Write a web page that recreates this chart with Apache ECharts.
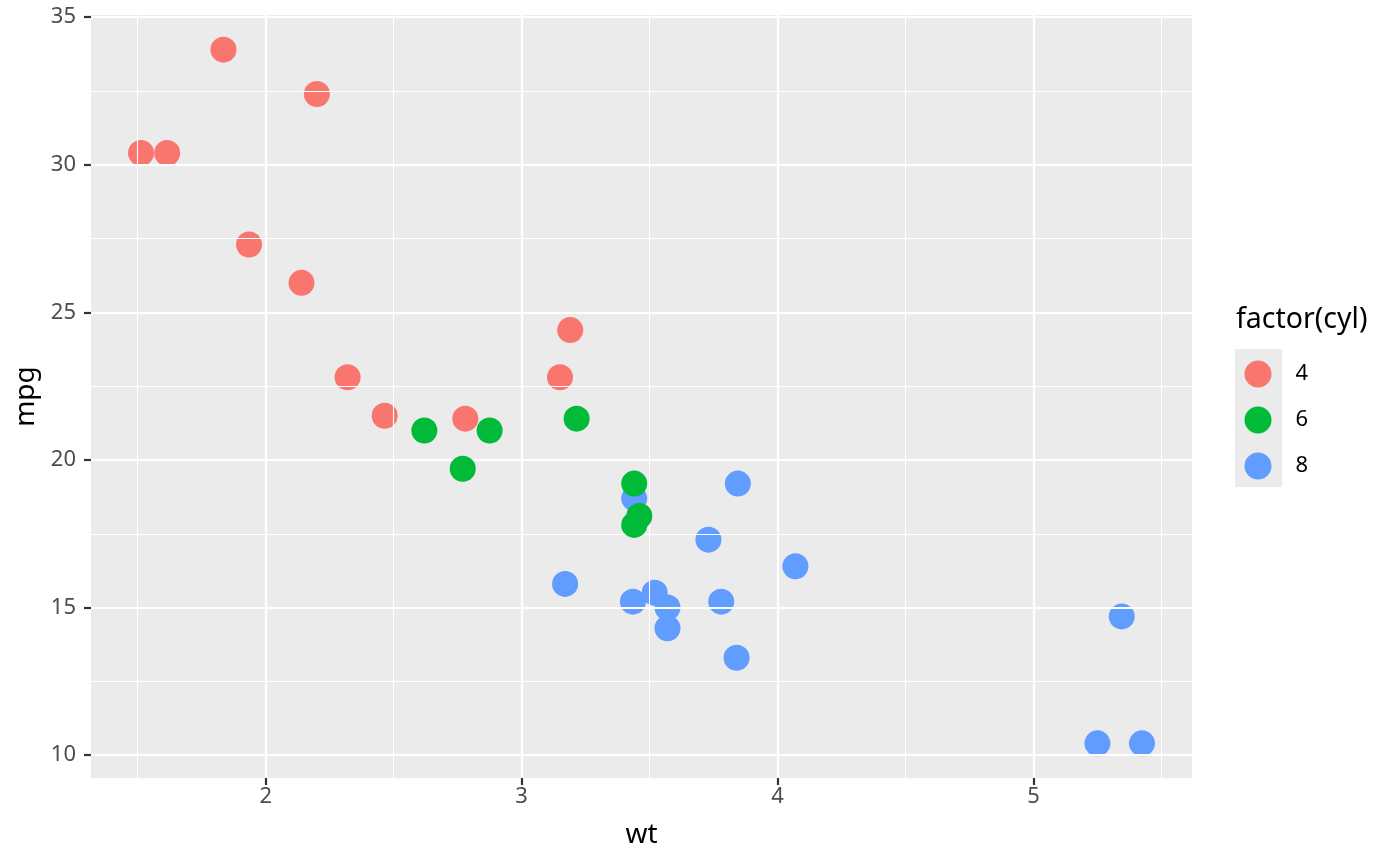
<!DOCTYPE html>
<html><head><meta charset="utf-8">
<script src="https://cdn.jsdelivr.net/npm/echarts@6/dist/echarts.min.js"></script>
<style>html,body{margin:0;padding:0;background:#fff}#c{width:1400px;height:866px}</style>
</head><body><div id="c"></div>
<script>
// mtcars: weight (1000 lbs), miles per gallon, cylinders
const wt  = [2.620,2.875,2.320,3.215,3.440,3.460,3.570,3.190,3.150,3.440,3.440,4.070,3.730,3.780,5.250,5.424,5.345,2.200,1.615,1.835,2.465,3.520,3.435,3.840,3.845,1.935,2.140,1.513,3.170,2.770,3.570,2.780];
const mpg = [21.0,21.0,22.8,21.4,18.7,18.1,14.3,24.4,22.8,19.2,17.8,16.4,17.3,15.2,10.4,10.4,14.7,32.4,30.4,33.9,21.5,15.5,15.2,13.3,19.2,27.3,26.0,30.4,15.8,19.7,15.0,21.4];
const cyl = [6,6,4,6,8,6,8,4,4,6,6,8,8,8,8,8,8,4,4,4,4,8,8,8,8,4,4,4,8,6,8,4];
const levels = ['4','6','8'];
const colors = ['#F8766D','#00BA38','#619CFF'];
const drawOrder = ['4','8','6'];
const xMajor = [2,3,4,5];
const xMinor = [1.5,2.5,3.5,4.5,5.5];
const yMajor = [10,15,20,25,30,35];
const yMinor = [12.5,17.5,22.5,27.5,32.5];

function expand(arr){const lo=Math.min(...arr),hi=Math.max(...arr),p=(hi-lo)*0.05;return [lo-p,hi+p];}
const xr = expand(wt), yr = expand(mpg);
const FONT = '"Noto Sans", "Open Sans", sans-serif';

const gridLines = [];
xMinor.forEach(v=>gridLines.push({xAxis:v,lineStyle:{width:1.1}}));
yMinor.forEach(v=>gridLines.push({yAxis:v,lineStyle:{width:1.1}}));
xMajor.forEach(v=>gridLines.push({xAxis:v,lineStyle:{width:2.2}}));
yMajor.forEach(v=>gridLines.push({yAxis:v,lineStyle:{width:2.2}}));

const series = [{
  type:'scatter', name:'grid', data:[], z:1, silent:true,
  markLine:{silent:true, symbol:['none','none'], label:{show:false}, animation:false,
    lineStyle:{color:'#FFFFFF', type:'solid'}, emphasis:{disabled:true}, data:gridLines}
}];
drawOrder.forEach((lv,j)=>{
  const i = levels.indexOf(lv);
  const d=[];
  for(let k=0;k<wt.length;k++) if(String(cyl[k])===lv) d.push([wt[k],mpg[k]]);
  series.push({type:'scatter', name:lv, data:d, symbol:'circle', symbolSize:26, z:3+j,
    itemStyle:{color:colors[i], opacity:1}, emphasis:{disabled:true}});
});

const chart = echarts.init(document.getElementById('c'));
chart.setOption({
  animation:false,
  backgroundColor:'#FFFFFF',
  textStyle:{fontFamily:FONT},
  grid:{left:91,right:208,top:15,bottom:88,show:true,backgroundColor:'#EBEBEB',borderWidth:0},
  title:{text:'factor(cyl)',left:1236,top:305,padding:0,textStyle:{fontFamily:FONT,fontSize:28.5,fontWeight:'normal',color:'#000000'}},
  graphic:[{type:'rect',left:1235,top:349,shape:{width:47,height:138},style:{fill:'#EBEBEB'},z:0,silent:true}],
  legend:{data:levels, orient:'vertical', left:1244.5, top:360.5, padding:0, itemWidth:27, itemHeight:27, itemGap:19,
    icon:'circle', textStyle:{fontFamily:FONT,fontSize:22,color:'#000000',padding:[0,0,0,19]}, selectedMode:false},
  xAxis:{type:'value', min:xr[0], max:xr[1], name:'wt', nameLocation:'middle', nameGap:43,
    nameTextStyle:{fontFamily:FONT,fontSize:28,color:'#000000'},
    axisLine:{show:false,onZero:false}, splitLine:{show:false},
    axisTick:{show:true,length:7,customValues:xMajor,lineStyle:{color:'#333333',width:2.2}},
    axisLabel:{customValues:xMajor,margin:8,fontFamily:FONT,fontSize:22,color:'#4D4D4D'}},
  yAxis:{type:'value', min:yr[0], max:yr[1], name:'mpg', nameLocation:'middle', nameGap:49, nameRotate:90,
    nameTextStyle:{fontFamily:FONT,fontSize:28,color:'#000000'},
    axisLine:{show:false,onZero:false}, splitLine:{show:false},
    axisTick:{show:true,length:7,customValues:yMajor,lineStyle:{color:'#333333',width:2.2}},
    axisLabel:{customValues:yMajor,margin:15,fontFamily:FONT,fontSize:22,color:'#4D4D4D'}},
  series:series
});
</script></body></html>
